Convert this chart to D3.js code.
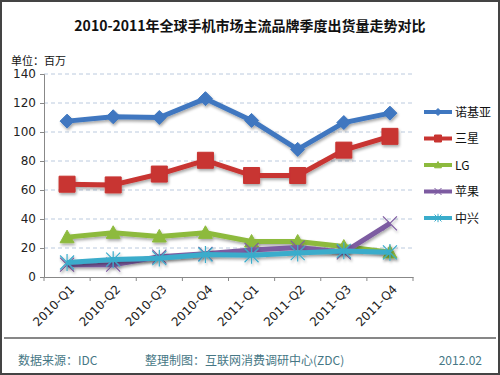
<!DOCTYPE html>
<html>
<head>
<meta charset="utf-8">
<script src="https://cdn.jsdelivr.net/npm/d3@7"></script>
<style>
  body { margin: 0; background: #fff; }
  svg text { font-family: "Noto Sans CJK SC", "DejaVu Sans", sans-serif; }
</style>
</head>
<body>
<div id="main"></div>
<script>
const quarters = ['2010-Q1', '2010-Q2', '2010-Q3', '2010-Q4', '2011-Q1', '2011-Q2', '2011-Q3', '2011-Q4'];
const nokia   = [107.5, 110.5, 110, 123, 108, 88, 106.5, 113];
const samsung = [64, 63.5, 71, 80.5, 70, 70, 87.5, 97];
const lg      = [27.5, 30.5, 28, 30.5, 24.5, 24.5, 21, 17];
const apple   = [8.5, 8.5, 14, 16, 18.7, 20.3, 17, 37];
const zte     = [10, 12, 13, 15.5, 15, 16.5, 18, 17];
const yTicks  = [0, 20, 40, 60, 80, 100, 120, 140];

const series = [
  { name: '诺基亚', values: nokia,   color: '#3f77c0', marker: 'diamond' },
  { name: '三星',   values: samsung, color: '#c83431', marker: 'square' },
  { name: 'LG',     values: lg,      color: '#8dba3d', marker: 'triangle' },
  { name: '苹果',   values: apple,   color: '#7d5ba1', marker: 'cross' },
  { name: '中兴',   values: zte,     color: '#3aaccb', marker: 'star' }
];

const W = 500, H = 375;
const plot = { left: 44, right: 413, top: 74, bottom: 277 };

const svg = d3.select('#main').append('svg')
  .attr('width', W).attr('height', H);

const defs = svg.append('defs');
const f = defs.append('filter').attr('id', 'shadow')
  .attr('x', '-20%').attr('y', '-20%').attr('width', '140%').attr('height', '140%');
f.append('feGaussianBlur').attr('in', 'SourceAlpha').attr('stdDeviation', 1.5);
f.append('feOffset').attr('dx', 1).attr('dy', 2).attr('result', 'b');
f.append('feComponentTransfer').append('feFuncA').attr('type', 'linear').attr('slope', 0.35);
const m = f.append('feMerge');
m.append('feMergeNode');
m.append('feMergeNode').attr('in', 'SourceGraphic');

// border
svg.append('rect').attr('x', 1).attr('y', 1).attr('width', W - 2).attr('height', H - 2)
  .attr('fill', 'none').attr('stroke', '#444').attr('stroke-width', 2);

svg.append('text').attr('x', W / 2).attr('y', 31).attr('text-anchor', 'middle')
  .attr('font-size', 14).attr('font-weight', 'bold').attr('fill', '#111')
  .text('2010-2011年全球手机市场主流品牌季度出货量走势对比');

svg.append('text').attr('x', 11).attr('y', 65).attr('font-size', 11).attr('fill', '#111')
  .text('单位：百万');

const x = d3.scaleBand().domain(quarters).range([plot.left, plot.right]);
const y = d3.scaleLinear().domain([0, 140]).range([plot.bottom, plot.top]);

// grid
svg.append('g').selectAll('line').data(yTicks.slice(1)).enter().append('line')
  .attr('x1', plot.left).attr('x2', plot.right)
  .attr('y1', d => y(d)).attr('y2', d => y(d))
  .attr('stroke', '#a9bcd6').attr('stroke-dasharray', '4,3').attr('stroke-width', 0.8);

// y axis
const ya = svg.append('g').attr('transform', `translate(${plot.left},0)`)
  .call(d3.axisLeft(y).tickValues(yTicks).tickSize(4).tickPadding(4));
ya.select('.domain').attr('stroke', '#888');
ya.selectAll('.tick line').attr('stroke', '#888');
ya.selectAll('.tick text').attr('font-size', 12).attr('fill', '#222')
  .style('font-family', '"DejaVu Sans", sans-serif');

// x axis
const xa = svg.append('g').attr('transform', `translate(0,${plot.bottom})`)
  .call(d3.axisBottom(x).tickSize(0).tickFormat(''));
xa.select('.domain').attr('stroke', '#888');
svg.append('g').selectAll('line').data(d3.range(quarters.length + 1)).enter().append('line')
  .attr('x1', i => plot.left + i * x.bandwidth()).attr('x2', i => plot.left + i * x.bandwidth())
  .attr('y1', plot.bottom).attr('y2', plot.bottom + 4).attr('stroke', '#888');
svg.append('g').selectAll('text').data(quarters).enter().append('text')
  .attr('transform', d => `translate(${x(d) + x.bandwidth() / 2 + 8},${plot.bottom + 13}) rotate(-45)`)
  .attr('text-anchor', 'end').attr('font-size', 12).attr('fill', '#222')
  .style('font-family', '"DejaVu Sans", sans-serif')
  .text(d => d);

function markerPath(type, s) {
  switch (type) {
    case 'diamond': return `M0,${-s}L${s},0L0,${s}L${-s},0Z`;
    case 'square': return `M${-s},${-s}H${s}V${s}H${-s}Z`;
    case 'triangle': return `M0,${-s}L${s},${s * 0.8}L${-s},${s * 0.8}Z`;
    case 'cross': return `M${-s},${-s}L${s},${s}M${s},${-s}L${-s},${s}`;
    case 'star': return `M${-s},${-s}L${s},${s}M${s},${-s}L${-s},${s}M0,${-s * 1.2}V${s * 1.2}`;
  }
}
const markerSize = { diamond: 7, square: 8, triangle: 7, cross: 7, star: 7 };

const line = d3.line().x((d, i) => x(quarters[i]) + x.bandwidth() / 2).y(d => y(d));

series.forEach(s => {
  const g = svg.append('g').attr('filter', 'url(#shadow)');
  g.append('path').datum(s.values).attr('d', line)
    .attr('fill', 'none').attr('stroke', s.color).attr('stroke-width', 5)
    .attr('stroke-linejoin', 'round');
  const open = s.marker === 'cross' || s.marker === 'star';
  g.selectAll('path.mk').data(s.values).enter().append('path')
    .attr('class', 'mk')
    .attr('transform', (d, i) => `translate(${x(quarters[i]) + x.bandwidth() / 2},${y(d)})`)
    .attr('d', markerPath(s.marker, markerSize[s.marker]))
    .attr('fill', open ? 'none' : s.color)
    .attr('stroke', s.color).attr('stroke-width', open ? 1.2 : 1);
});

// legend
const lg0 = svg.append('g');
series.forEach((s, i) => {
  const ly = 112 + i * 26.5;
  const g = lg0.append('g');
  g.append('line').attr('x1', 424).attr('x2', 452).attr('y1', ly).attr('y2', ly)
    .attr('stroke', s.color).attr('stroke-width', 4);
  const open = s.marker === 'cross' || s.marker === 'star';
  g.append('path').attr('transform', `translate(438,${ly})`)
    .attr('d', markerPath(s.marker, 3.5))
    .attr('fill', open ? 'none' : s.color).attr('stroke', s.color).attr('stroke-width', 1);
  g.append('text').attr('x', 455).attr('y', ly + 4.5).attr('font-size', 12).attr('fill', '#111')
    .text(s.name);
});

// footer
svg.append('line').attr('x1', 4).attr('x2', 496).attr('y1', 338).attr('y2', 338)
  .attr('stroke', '#111').attr('stroke-width', 1.2);
const foot = [
  { t: '数据来源：IDC', x: 18, a: 'start' },
  { t: '整理制图：互联网消费调研中心(ZDC)', x: 145, a: 'start' },
  { t: '2012.02', x: 482, a: 'end' }
];
svg.append('g').selectAll('text').data(foot).enter().append('text')
  .attr('x', d => d.x).attr('y', 365).attr('text-anchor', d => d.a)
  .attr('font-size', 12).attr('fill', '#467785').text(d => d.t);
</script>
</body>
</html>
